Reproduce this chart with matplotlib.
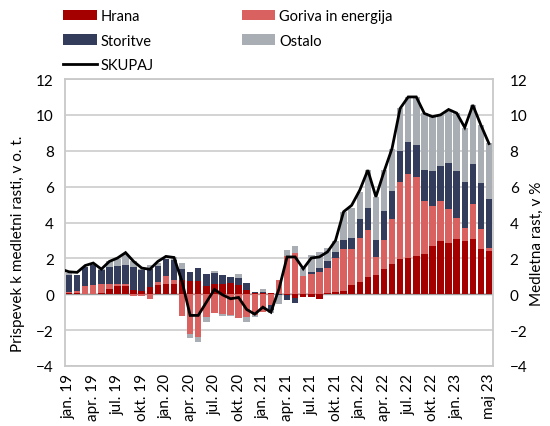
import matplotlib
matplotlib.use("Agg")
import matplotlib.pyplot as plt
import numpy as np
from matplotlib.patches import Patch
from matplotlib.lines import Line2D

plt.rcParams['font.family'] = ['Lato', 'DejaVu Sans']

months = ["jan. 19","feb. 19","mar. 19","apr. 19","maj 19","jun. 19","jul. 19","avg. 19","sep. 19","okt. 19","nov. 19","dec. 19",
          "jan. 20","feb. 20","mar. 20","apr. 20","maj 20","jun. 20","jul. 20","avg. 20","sep. 20","okt. 20","nov. 20","dec. 20",
          "jan. 21","feb. 21","mar. 21","apr. 21","maj 21","jun. 21","jul. 21","avg. 21","sep. 21","okt. 21","nov. 21","dec. 21",
          "jan. 22","feb. 22","mar. 22","apr. 22","maj 22","jun. 22","jul. 22","avg. 22","sep. 22","okt. 22","nov. 22","dec. 22",
          "jan. 23","feb. 23","mar. 23","apr. 23","maj 23"]

hrana = [0.05,0.05,0.02,0.02,0.05,0.30,0.48,0.48,0.24,0.20,0.39,0.52,
         0.58,0.58,0.77,0.76,0.76,0.48,0.58,0.59,0.64,0.53,0.24,0.05,
         0.07,0.05,0.00,-0.05,-0.20,-0.15,-0.15,-0.25,0.05,0.10,0.20,0.50,
         0.68,0.96,1.05,1.42,1.66,1.94,2.04,2.12,2.23,2.67,2.95,2.88,
         3.10,2.95,3.08,2.52,2.39]
goriva = [0.10,0.12,0.45,0.50,0.50,0.28,0.10,0.10,-0.10,-0.10,-0.26,0.19,
          0.43,0.19,-1.19,-2.20,-2.40,-1.25,-1.06,-1.10,-1.15,-1.30,-1.28,-1.15,
          -1.00,-0.60,0.80,2.12,2.30,1.00,1.14,1.23,1.41,1.92,2.34,2.04,
          2.47,2.64,1.03,1.60,2.51,4.32,4.69,4.39,2.96,2.24,2.24,1.86,
          1.16,0.76,1.94,1.10,0.20]
storitve = [0.95,0.88,1.05,1.10,0.80,0.93,1.02,1.06,1.27,1.15,1.02,0.89,
            0.93,1.15,0.65,0.50,0.69,0.65,0.61,0.50,0.30,0.37,0.39,0.10,
            0.07,-0.30,-0.05,-0.25,-0.30,0.00,0.10,0.26,0.41,0.34,0.46,0.60,
            1.03,1.21,0.92,1.64,1.57,1.71,1.75,1.80,1.71,1.94,1.96,2.55,
            2.60,2.57,2.25,2.60,2.70]
ostalo = [0.10,0.05,0.00,0.05,0.05,0.37,0.37,0.61,0.35,0.05,0.20,0.15,
          0.05,0.15,0.32,-0.24,-0.24,-0.30,0.13,-0.13,-0.09,0.24,-0.24,-0.13,
          0.15,-0.15,-0.50,0.32,0.37,0.45,0.97,0.86,0.71,0.59,1.60,1.66,
          1.50,2.10,2.43,2.26,2.38,2.42,2.49,2.67,3.18,3.10,2.84,2.98,
          3.22,3.00,3.29,3.23,3.12]
# total line (first value = dec. 18, clipped at the axis edge)
skupaj_months = ["dec. 18"] + months
skupaj = [1.40,1.25,1.22,1.60,1.74,1.40,1.83,2.02,2.32,1.83,1.46,1.39,1.83,
          2.11,2.05,0.70,-1.18,-1.18,-0.45,0.27,-0.03,-0.25,-0.18,-0.85,-1.11,
          -0.72,-1.00,0.30,2.08,2.08,1.42,2.02,2.08,2.36,3.00,4.60,4.96,
          5.80,6.92,5.43,6.83,8.13,10.36,11.00,11.00,10.08,9.90,10.00,10.30,
          10.10,9.30,10.55,9.43,8.40]
tick_idx = [0,3,6,9,12,15,18,21,24,27,30,33,36,39,42,45,48,52]

series = [("Hrana", hrana, "#A50000"),
          ("Goriva in energija", goriva, "#D9615F"),
          ("Storitve", storitve, "#333D5B"),
          ("Ostalo", ostalo, "#A8AEB4")]

fig = plt.figure(figsize=(5.5, 4.27), dpi=100)
ax = fig.add_axes([65/550, 60/427, 428/550, 287/427])

x = np.arange(len(months))
pos_bottom = np.zeros(len(months))
neg_bottom = np.zeros(len(months))
for name, vals, col in series:
    v = np.array(vals)
    bottom = np.where(v >= 0, pos_bottom, neg_bottom)
    ax.bar(x, v, width=0.8, bottom=bottom, color=col, linewidth=0, zorder=3)
    pos_bottom = pos_bottom + np.where(v >= 0, v, 0)
    neg_bottom = neg_bottom + np.where(v < 0, v, 0)

xl = np.arange(-1, len(months))
ax.plot(xl, skupaj, color="black", linewidth=2.0, zorder=4, solid_joinstyle='miter')

ax.set_xlim(-0.5, len(months) - 0.5)
ax.set_ylim(-4, 12)
ax.set_yticks(np.arange(-4, 13, 2))
ax.yaxis.grid(True, color="#D0D0D0", linewidth=1.3, zorder=0)
ax.set_axisbelow(True)
ax.axhline(0, color="#9A9A9A", linewidth=1.0, zorder=2)
for s in ax.spines.values():
    s.set_color("#C8C8C8")
    s.set_linewidth(1.3)

ax.set_xticks(tick_idx)
ax.set_xticklabels([months[i] for i in tick_idx], rotation=90, fontsize=11)
ax.tick_params(axis='both', length=0, labelsize=11)
ax.tick_params(axis='x', pad=5)
ax.tick_params(axis='y', pad=8)
ax.set_ylabel("Prispevek k medletni rasti, v o. t.", fontsize=11)
ax.yaxis.set_label_coords(-0.093, 0.43)

ax2 = ax.twinx()
ax2.set_ylim(-4, 12)
ax2.set_yticks(np.arange(-4, 13, 2))
ax2.tick_params(axis='y', length=0, labelsize=11, pad=12)
for s in ax2.spines.values():
    s.set_visible(False)
ax2.set_ylabel("Medletna rast, v %", fontsize=11)
ax2.yaxis.set_label_coords(1.087, 0.43)

handles = [Patch(facecolor=series[0][2], label=series[0][0]),
           Patch(facecolor=series[2][2], label=series[2][0]),
           Line2D([0], [0], color="black", linewidth=2.0, label="SKUPAJ"),
           Patch(facecolor=series[1][2], label=series[1][0]),
           Patch(facecolor=series[3][2], label=series[3][0])]
fig.legend(handles=handles, ncol=2, loc="upper left",
           bbox_to_anchor=(63/550, 1 - 10/427), frameon=False, fontsize=10.5,
           handlelength=2.3, handleheight=0.7, handletextpad=0.3,
           labelspacing=0.72, columnspacing=6.0, borderpad=0, borderaxespad=0)

fig.savefig("out.png", dpi=100)
